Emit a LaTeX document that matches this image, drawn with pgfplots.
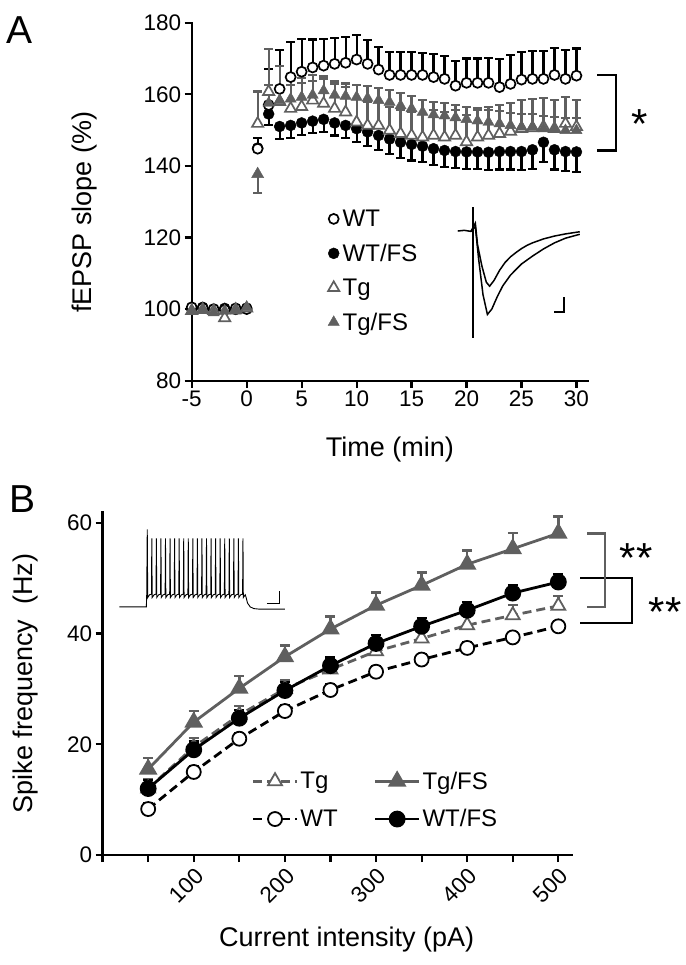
\documentclass[border=0pt]{standalone}
\usepackage{fontspec}
\setmainfont{Liberation Sans}
\usepackage{pgfplots}
\pgfplotsset{compat=1.18}
\definecolor{dg}{RGB}{95,95,95}

\pgfplotstableread{
t v e
-5 100.5 0
-4 100.3 0
-3 100.0 0
-2 99.8 0
-1 100.2 0
0 100.0 0
1 144.8 3
2 157.0 10
3 161.5 10.8
4 164.8 9.8
5 166.3 9.2
6 167.5 7.8
7 168.0 7.5
8 168.5 7.3
9 168.8 7.2
10 169.7 6.9
11 168.5 6.6
12 166.9 6.2
13 165.4 6.4
14 165.4 6.4
15 165.4 6.4
16 165.4 6.2
17 164.8 6.5
18 164.3 6.5
19 162.4 7
20 163.2 6.8
21 163.2 6.8
22 163.2 7
23 162.0 7.8
24 162.9 8
25 164.1 7.8
26 164.3 7.8
27 164.3 7.8
28 165.4 7.6
29 164.3 8
30 165.2 7.6
}\wtA

\pgfplotstableread{
t v e
-5 100.0 0
-4 100.5 0
-3 99.8 0
-2 100.2 0
-1 99.9 0
0 100.3 0
1 145.0 0
2 154.5 3
3 151.0 3.5
4 151.3 3.5
5 152.0 3.3
6 152.5 3.3
7 153.0 3.5
8 152.0 3.5
9 151.3 3.6
10 150.4 3.8
11 149.5 4
12 148.5 4
13 147.5 4.2
14 146.6 4.3
15 146.0 4.5
16 145.5 4.5
17 144.8 4.5
18 144.3 4.6
19 144.0 4.7
20 143.9 4.8
21 143.9 4.8
22 143.8 5
23 144.0 5
24 144.0 5
25 144.0 5.2
26 144.5 5.3
27 146.6 5.5
28 144.5 5.5
29 144.0 5.5
30 143.9 5.6
}\wtfsA

\pgfplotstableread{
t v e
-5 99.5 0
-4 99.8 0
-3 99.5 0
-2 97.5 0
-1 99.8 0
0 100.2 0
1 151.8 9
2 160.7 12
3 157.9 10
4 156.0 9
5 156.5 8
6 158.3 7
7 157.4 7
8 156.0 7
9 155.0 7
10 152.2 6.5
11 151.3 6.5
12 151.3 6.5
13 149.9 6.5
14 149.0 6.5
15 148.5 6.5
16 148.0 6.5
17 148.5 7
18 148.0 7
19 148.5 7
20 146.7 7.5
21 148.0 7.5
22 148.5 8
23 149.0 8
24 149.6 8
25 150.4 8
26 150.6 8
27 150.9 8
28 150.4 8
29 151.8 7.5
30 150.9 7.5
}\tgA

\pgfplotstableread{
t v e
-5 99.5 0
-4 99.8 0
-3 99.0 0
-2 99.5 0
-1 99.5 0
0 100.5 0
2 157.5 5
3 158.3 4
4 158.7 4
5 159.2 4
6 159.8 4
7 161.0 4
8 159.8 4
9 159.5 3.5
10 159.2 3.5
11 158.9 3.5
12 158.3 3.5
13 157.8 3.5
14 156.8 3.5
15 156.0 3.5
16 155.0 3.5
17 154.3 3.5
18 154.0 3.5
19 153.5 3.5
20 153.0 3.5
21 152.6 3.5
22 152.2 3.5
23 151.8 3.5
24 151.3 3.5
25 150.9 3.5
26 150.9 3.5
27 150.4 3.5
28 150.2 3.5
29 149.9 3.5
30 149.9 3.5
}\tgfsA

\pgfplotstableread{
x tgfs etgfs wtfs ewtfs tg etg wt ewt
50 15.5 2.0 12.0 1.5 12.0 1.6 8.3 1.0
100 24.0 2.0 19.0 1.5 19.5 1.6 15.0 1.0
150 30.1 2.2 24.7 1.5 25.3 1.6 21.0 1.0
200 35.8 2.0 29.7 1.5 30.0 1.6 26.0 1.0
250 40.8 2.3 34.2 1.5 33.5 1.6 29.8 1.0
300 45.1 2.3 38.2 1.5 36.8 1.7 33.1 1.0
350 48.7 2.3 41.3 1.5 39.1 1.7 35.3 1.0
400 52.5 2.5 44.2 1.5 41.5 1.8 37.4 1.0
450 55.3 2.8 47.3 1.5 43.3 1.8 39.3 1.0
500 58.1 3.0 49.3 1.5 45.0 1.8 41.3 1.0
}\dataB

\begin{document}
\begin{tikzpicture}[x=1pt,y=1pt]
\useasboundingbox (0,0) rectangle (685,965);
\node[anchor=base west,inner sep=0,font=\fontsize{39}{42}\selectfont] at (6pt,921.7pt) {A};
\node[anchor=base west,inner sep=0,font=\fontsize{39}{42}\selectfont] at (9pt,452pt) {B};

\begin{axis}[
  at={(191.7pt,584.3pt)}, anchor=south west,
  scale only axis, width=396.3pt, height=358pt,
  xmin=-5, xmax=31.05, ymin=80, ymax=180,
  axis x line*=bottom, axis y line*=left,
  axis line style={line width=2.2pt, line cap=rect},
  xtick={-5,0,...,30}, ytick={80,100,...,180},
  tick align=outside, major tick length=7pt,
  every tick/.style={black, line width=2.2pt},
  tick label style={font=\fontsize{22.5}{26}\selectfont},
  /pgf/number format/assume math mode=true,
  clip=false,
  xlabel={Time (min)}, ylabel={fEPSP slope (\%)},
  label style={font=\fontsize{27}{31}\selectfont},
  xlabel style={at={(axis description cs:0.5,-0.192)}, anchor=center},
  ylabel style={at={(axis description cs:-0.27,0.47)}, anchor=center},
  legend style={draw=none, fill=none, at={(axis cs:6.9,128.6)}, anchor=north west,
    font=\fontsize{24}{28}\selectfont, row sep=14pt,
    nodes={inner sep=1pt}},
  legend cell align=left,
  legend image code/.code={\path[draw=none,fill=none] (0pt,0pt) -- (16pt,0pt); \draw[#1] plot coordinates {(8pt,0pt)};},
]
% traces inset
\addplot[black, line width=1.5pt, forget plot] coordinates {
(19.2,121.8) (19.8,122.0) (20.4,121.7) (20.8,124.0) (21.0,118.0) (21.4,112.0) (21.8,107.5) (22.1,106.4) (22.5,108.0) (23.0,110.8) (23.5,113.0) (24.0,114.6) (24.5,115.8) (25.0,116.9) (25.5,117.8) (26.0,118.5) (27.0,119.6) (28.0,120.4) (29.0,121.0) (30.3,121.6)};
\addplot[black, line width=1.5pt, forget plot] coordinates {
(20.4,121.7) (20.8,123.0) (21.1,114.0) (21.5,104.0) (21.9,98.5) (22.3,100.0) (22.8,103.5) (23.3,106.5) (24.0,109.5) (25.0,112.6) (26.0,114.8) (27.0,116.8) (28.0,118.5) (29.0,119.8) (30.3,120.9)};
\addplot[black, line width=2.6pt, forget plot] coordinates {(20.6,128.5) (20.6,92.0)};
\addplot[black, line width=2pt, forget plot] coordinates {(28.0,99.3) (28.9,99.3) (28.9,103.5)};

% data
\addplot[only marks, mark=*, mark size=5.5pt, mark options={fill=black, draw=black},
  error bars/.cd, y dir=minus, y explicit, error bar style={black, line width=2.2pt},
  error mark options={black, rotate=90, mark size=4.5pt, line width=2.2pt},
  /pgfplots/forget plot] table[x=t, y=v, y error=e] {\wtfsA};
\addplot[only marks, mark=*, mark size=5pt, mark options={fill=white, draw=black, line width=1.7pt},
  error bars/.cd, y dir=plus, y explicit, error bar style={black, line width=2.2pt},
  error mark options={black, rotate=90, mark size=4.5pt, line width=2.2pt},
  /pgfplots/forget plot] table[x=t, y=v, y error=e] {\wtA};
\addplot[only marks, mark=triangle*, mark size=6.5pt, mark options={fill=white, draw=dg, line width=1.7pt},
  error bars/.cd, y dir=plus, y explicit, error bar style={dg, line width=2.2pt},
  error mark options={dg, rotate=90, mark size=4.5pt, line width=2.2pt},
  /pgfplots/forget plot] table[x=t, y=v, y error=e] {\tgA};
\addplot[only marks, mark=triangle*, mark size=6.5pt, mark options={fill=dg, draw=dg},
  error bars/.cd, y dir=plus, y explicit, error bar style={dg, line width=2.2pt},
  error mark options={dg, rotate=90, mark size=4.5pt, line width=2.2pt},
  /pgfplots/forget plot] table[x=t, y=v, y error=e] {\tgfsA};
\addplot[only marks, mark=triangle*, mark size=7pt, mark options={fill=dg, draw=dg},
  error bars/.cd, y dir=minus, y explicit, error bar style={dg, line width=2.2pt},
  error mark options={dg, rotate=90, mark size=4.5pt, line width=2.2pt},
  /pgfplots/forget plot] coordinates {(1,137.7) -= (0,5.2)};

\addlegendimage{only marks, mark=*, mark size=5pt, mark options={fill=white, draw=black, line width=1.7pt}}
\addlegendentry{WT}
\addlegendimage{only marks, mark=*, mark size=5.5pt, mark options={fill=black, draw=black}}
\addlegendentry{WT/FS}
\addlegendimage{only marks, mark=triangle*, mark size=6.5pt, mark options={fill=white, draw=dg, line width=1.7pt}}
\addlegendentry{Tg}
\addlegendimage{only marks, mark=triangle*, mark size=6.5pt, mark options={fill=dg, draw=dg}}
\addlegendentry{Tg/FS}

\draw[black, line width=2.2pt] (axis cs:31.9,165.4) -- (axis cs:33.6,165.4) -- (axis cs:33.6,144.3) -- (axis cs:31.9,144.3);
\node[anchor=base, inner sep=0, font=\fontsize{42}{44}\selectfont] at (axis cs:35.75,147.6) {*};
\end{axis}

\begin{axis}[
  at={(102.6pt,110pt)}, anchor=south west,
  scale only axis, width=469.4pt, height=343.3pt,
  xmin=0, xmax=515, ymin=0, ymax=62,
  axis x line*=bottom, axis y line*=left,
  axis line style={line width=2.2pt, line cap=rect},
  xtick={0,50,...,500}, xticklabels={,,100,,200,,300,,400,,500},
  ytick={0,20,40,60},
  tick align=outside, major tick length=7pt,
  every tick/.style={black, line width=2.2pt},
  tick label style={font=\fontsize{22.5}{26}\selectfont},
  xticklabel style={rotate=45, anchor=north east},
  /pgf/number format/assume math mode=true,
  clip=false,
  xlabel={Current intensity (pA)}, ylabel={Spike frequency\ \ (Hz)},
  label style={font=\fontsize{27}{31}\selectfont},
  xlabel style={at={(axis description cs:0.52,-0.2476)}, anchor=center},
  ylabel style={at={(axis description cs:-0.165,0.5)}, anchor=center},
  legend style={draw=none, fill=none, at={(axis cs:160,15.8)}, anchor=north west,
    font=\fontsize{24}{28}\selectfont, row sep=15pt,
    nodes={inner sep=2pt},
    /tikz/every even column/.append style={column sep=34pt}},
  legend columns=2,
  legend cell align=left,
  legend image code/.code={\draw[mark repeat=2,mark phase=2,#1] plot coordinates {(0pt,0pt) (22pt,0pt) (44pt,0pt)};},
]
% spike inset
\addplot[black, line width=0.9pt, forget plot] coordinates {
(18.3,44.8) (48.0,44.8) (48.4,47.0) (49.0,58.8) (49.5,46.5) (51.5,47.0)
(53.6,47.1) (54,57.2) (54.4,46.5) (56.5,47.0)
(58.6,47.1) (59,57.2) (59.4,46.5) (61.5,47.0)
(63.6,47.1) (64,57.2) (64.4,46.5) (66.5,47.0)
(68.6,47.1) (69,57.2) (69.4,46.5) (71.5,47.0)
(73.6,47.1) (74,57.2) (74.4,46.5) (76.5,47.0)
(78.6,47.1) (79,57.2) (79.4,46.5) (81.5,47.0)
(83.6,47.1) (84,57.2) (84.4,46.5) (86.5,47.0)
(88.6,47.1) (89,57.2) (89.4,46.5) (91.5,47.0)
(93.6,47.1) (94,57.2) (94.4,46.5) (96.5,47.0)
(98.6,47.1) (99,57.2) (99.4,46.5) (101.5,47.0)
(103.6,47.1) (104,57.2) (104.4,46.5) (106.5,47.0)
(108.6,47.1) (109,57.2) (109.4,46.5) (111.5,47.0)
(113.6,47.1) (114,57.2) (114.4,46.5) (116.5,47.0)
(118.6,47.1) (119,57.2) (119.4,46.5) (121.5,47.0)
(123.6,47.1) (124,57.2) (124.4,46.5) (126.5,47.0)
(128.6,47.1) (129,57.2) (129.4,46.5) (131.5,47.0)
(133.6,47.1) (134,57.2) (134.4,46.5) (136.5,47.0)
(138.6,47.1) (139,57.2) (139.4,46.5) (141.5,47.0)
(143.6,47.1) (144,57.2) (144.4,46.5) (146.5,47.0)
(148.6,47.1) (149,57.2) (149.4,46.5) (151.5,47.0)
(153.6,47.1) (154,57.2) (154.4,46.5) (156.5,47.0)
(157.5,46.5) (159,45.5) (162,44.8) (166,44.5) (172,44.4) (200,44.4)};
\addplot[black, line width=1.5pt, forget plot] coordinates {(180.1,45.4) (194,45.4) (194,47.7)};

% data
\addplot[dg, line width=2.8pt, dash pattern=on 9pt off 5pt, mark=triangle*, mark size=8pt, mark options={solid, fill=white, draw=dg, line width=1.8pt},
  error bars/.cd, y dir=plus, y explicit, error bar style={dg, solid, line width=2.4pt},
  error mark options={dg, solid, rotate=90, mark size=5pt, line width=2.4pt}]
  table[x=x, y=tg, y error=etg] {\dataB};
\addlegendentry{Tg}
\addplot[dg, line width=2.8pt, mark=triangle*, mark size=8pt, mark options={solid, fill=dg, draw=dg},
  error bars/.cd, y dir=plus, y explicit, error bar style={dg, line width=2.4pt},
  error mark options={dg, rotate=90, mark size=5pt, line width=2.4pt}]
  table[x=x, y=tgfs, y error=etgfs] {\dataB};
\addlegendentry{Tg/FS}
\addplot[black, line width=2.8pt, dash pattern=on 9pt off 5pt, mark=*, mark size=7pt, mark options={solid, fill=white, draw=black, line width=1.8pt},
  error bars/.cd, y dir=plus, y explicit, error bar style={black, solid, line width=2.4pt},
  error mark options={black, solid, rotate=90, mark size=5pt, line width=2.4pt}]
  table[x=x, y=wt, y error=ewt] {\dataB};
\addlegendentry{WT}
\addplot[black, line width=2.8pt, mark=*, mark size=7pt, mark options={solid, fill=black, draw=black},
  error bars/.cd, y dir=plus, y explicit, error bar style={black, line width=2.4pt},
  error mark options={black, rotate=90, mark size=5pt, line width=2.4pt}]
  table[x=x, y=wtfs, y error=ewtfs] {\dataB};
\addlegendentry{WT/FS}

\draw[black, line width=2.5pt] (axis cs:524,50) -- (axis cs:581,50) -- (axis cs:581,41.9) -- (axis cs:524,41.9);
\draw[dg, line width=2.5pt] (axis cs:531.7,58.1) -- (axis cs:551.4,58.1) -- (axis cs:551.4,44.8) -- (axis cs:531.7,44.8);
\node[anchor=base, inner sep=0, font=\fontsize{42}{44}\selectfont] at (axis cs:585.5,51.1) {**};
\node[anchor=base, inner sep=0, font=\fontsize{42}{44}\selectfont] at (axis cs:617.3,41.2) {**};
\end{axis}
\end{tikzpicture}
\end{document}
